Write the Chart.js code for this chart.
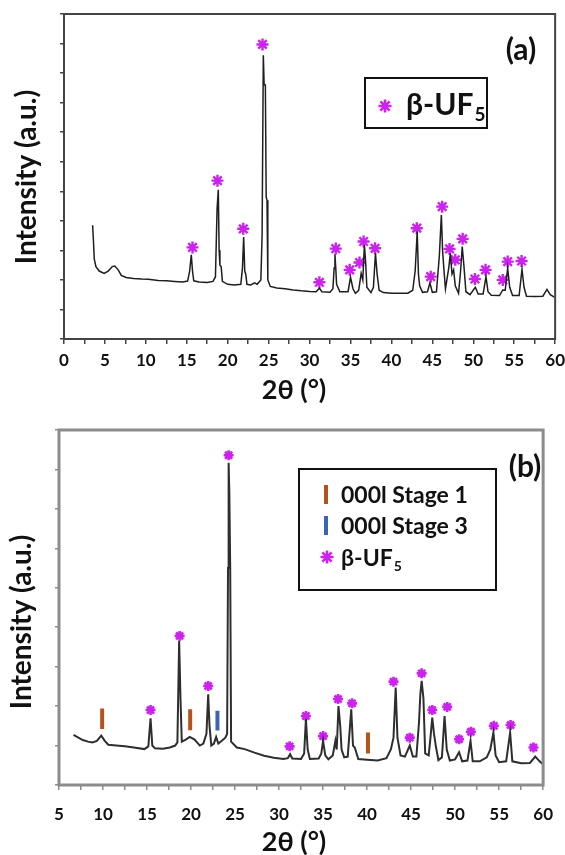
<!DOCTYPE html>
<html>
<head>
<meta charset="utf-8">
<script src="https://cdn.jsdelivr.net/npm/chart.js@4.4.1/dist/chart.umd.min.js"></script>
<style>
  html, body { margin: 0; padding: 0; background: #fff; overflow: hidden; }
  body { width: 565px; height: 855px; position: relative; }
  .panel { position: absolute; left: 0; }
  #wrapA { top: 0; width: 571px; height: 415px; }
  #wrapB { top: 415px; width: 567px; height: 440px; }
</style>
</head>
<body>
<div class="panel" id="wrapA"><canvas id="chartA"></canvas></div>
<div class="panel" id="wrapB"><canvas id="chartB"></canvas></div>
<script>
// ---- panel (a) : pattern + beta-UF5 reflections ----
const thetaA = [3.5, 3.6, 3.7, 3.9, 4.3, 4.9, 5.4, 5.9, 6.2, 6.6, 7.0, 7.6, 8.5, 9.5, 10.3, 11.5, 12.5, 13.5, 14.5,
  15.1, 15.35, 15.55, 15.7, 15.85, 16.5, 17.5, 18.2, 18.5, 18.7, 18.85, 18.95, 19.05, 19.2, 19.35, 20.0, 20.8,
  21.6, 21.8, 21.95, 22.08, 22.2, 22.35, 22.8, 23.3, 23.6, 24.05, 24.2, 24.35, 24.45, 24.6, 24.7, 24.8, 24.9,
  25.2, 26.0, 27.0, 28.0, 29.0, 30.0, 30.8, 31.2, 31.5, 32.5, 32.85, 33.0, 33.1, 33.2, 33.3, 33.7, 34.7, 35.0,
  35.3, 35.6, 36.0, 36.3, 36.5, 36.7, 36.85, 37.0, 37.5, 37.8, 38.05, 38.25, 38.5, 39.0, 40.0, 41.0, 42.0, 42.6,
  42.9, 43.15, 43.3, 43.45, 43.8, 44.4, 44.7, 45.0, 45.5, 45.85, 46.1, 46.25, 46.4, 46.6, 47.0, 47.2, 47.4, 47.6,
  47.8, 48.2, 48.45, 48.65, 48.85, 49.1, 49.6, 50.25, 50.6, 51.2, 51.55, 51.8, 52.2, 53.2, 53.6, 53.9, 54.2,
  54.45, 54.8, 55.6, 55.95, 56.2, 56.5, 57.5, 58.5, 59.0, 59.4, 59.9];
const intensityA = [3.85, 3.3, 2.7, 2.45, 2.3, 2.22, 2.3, 2.45, 2.47, 2.35, 2.15, 2.08, 2.05, 2.03, 2.02, 1.98, 1.97, 1.95, 1.93,
  1.96, 2.3, 2.85, 2.3, 1.97, 1.93, 1.91, 1.95, 2.1, 4.4, 5.05, 3.0, 2.5, 2.45, 1.95, 1.85, 1.83,
  1.85, 2.4, 3.45, 2.3, 2.2, 1.85, 1.83, 1.9, 1.85, 2.0, 3.5, 9.6, 8.6, 8.6, 4.8, 4.7, 2.0,
  1.78, 1.73, 1.7, 1.66, 1.63, 1.61, 1.6, 1.72, 1.6, 1.58, 1.7, 2.4, 2.87, 2.4, 1.85, 1.6, 1.6, 2.09,
  1.7, 1.55, 1.65, 2.22, 2.0, 3.19, 2.6, 1.75, 1.57, 1.75, 2.9, 2.2, 1.65, 1.57, 1.55, 1.55, 1.55, 1.65,
  2.3, 3.64, 2.2, 1.8, 1.58, 1.6, 1.89, 1.58, 1.6, 2.8, 4.2, 3.0, 2.4, 1.7, 2.4, 2.9, 2.2, 2.34,
  1.8, 1.55, 2.3, 3.13, 2.5, 1.6, 1.5, 1.75, 1.52, 1.52, 2.11, 1.6, 1.48, 1.47, 1.66, 1.65, 2.4,
  1.75, 1.47, 1.47, 2.36, 1.75, 1.45, 1.44, 1.45, 1.68, 1.5, 1.42];
const starThetaA = [15.7, 18.75, 21.9, 24.25, 31.2, 33.2, 34.9, 36.1, 36.6, 38.0, 43.1, 44.8, 46.2, 47.1, 47.8,
  48.7, 50.2, 51.5, 53.6, 54.2, 55.9];
const starIntensityA = [3.1, 5.36, 3.73, 9.97, 1.92, 3.06, 2.34, 2.59, 3.3, 3.07, 3.75, 2.11, 4.48, 3.05, 2.68,
  3.39, 2.03, 2.34, 2.0, 2.62, 2.64];

// ---- panel (b) : pattern + stage markers + beta-UF5 reflections ----
const thetaB = [6.65, 7.2, 7.7, 8.3, 8.8, 9.3, 9.8, 10.2, 10.6, 11.5, 12.5, 13.5, 14.7, 15.15, 15.4, 15.6, 15.9,
  16.8, 17.6, 18.2, 18.45, 18.65, 18.8, 18.95, 19.4, 19.85, 20.4, 21.0, 21.4, 21.75, 21.95, 22.1, 22.3, 22.6,
  22.85, 23.1, 23.5, 23.9, 24.1, 24.2, 24.27, 24.35, 24.45, 24.55, 25.2, 26.1, 27.2, 28.3, 29.4, 30.5, 31.0, 31.25,
  31.5, 32.5, 32.85, 33.05, 33.25, 33.5, 34.5, 34.8, 35.0, 35.25, 35.6, 36.1, 36.4, 36.55, 36.75, 36.95, 37.1,
  37.4, 37.8, 38.2, 38.4, 38.6, 39.0, 40.0, 41.2, 42.2, 42.7, 43.0, 43.25, 43.45, 43.8, 44.3, 44.85, 45.2, 45.6,
  45.9, 46.05, 46.2, 46.4, 46.6, 47.0, 47.2, 47.4, 47.6, 47.8, 48.1, 48.5, 48.8, 49.05, 49.4, 50.0, 50.45, 50.8,
  51.4, 51.75, 52.0, 52.8, 53.6, 54.0, 54.35, 54.6, 55.0, 55.8, 56.25, 56.5, 57.5, 58.5, 59.1, 59.6, 60.0];
const intensityB = [1.27, 1.2, 1.14, 1.1, 1.08, 1.12, 1.25, 1.12, 1.02, 1.0, 0.98, 0.95, 0.91, 0.98, 1.69, 1.0, 0.93,
  0.92, 0.95, 1.0, 1.08, 3.65, 2.2, 1.1, 1.15, 1.22, 1.15, 1.0, 1.05, 1.3, 2.3, 1.5, 1.0, 1.05,
  1.22, 1.05, 1.12, 1.2, 1.3, 5.5, 8.17, 7.4, 5.5, 1.1, 0.95, 0.91, 0.82, 0.74, 0.69, 0.66, 0.68, 0.78,
  0.67, 0.66, 0.8, 1.67, 0.9, 0.66, 0.67, 0.8, 1.12, 0.75, 0.65, 0.75, 1.12, 0.9, 2.0, 1.5, 0.9,
  0.7, 0.72, 1.92, 1.0, 0.95, 0.66, 0.64, 0.62, 0.68, 0.9, 1.2, 2.47, 1.2, 0.75, 0.72, 1.0, 0.72, 0.72,
  1.6, 2.3, 2.64, 2.2, 0.8, 0.75, 1.2, 1.71, 1.3, 1.0, 0.63, 0.7, 1.75, 0.9, 0.62, 0.65, 0.83, 0.6,
  0.62, 1.12, 0.6, 0.6, 0.7, 0.9, 1.33, 0.75, 0.58, 0.6, 1.33, 0.6, 0.55, 0.56, 0.72, 0.6, 0.52];
const starThetaB = [15.4, 18.7, 21.95, 24.27, 31.2, 33.05, 35.0, 36.7, 38.3, 43.0, 44.85, 46.2, 47.4, 49.1,
  50.45, 51.8, 54.4, 56.3, 58.9];
const starIntensityB = [1.9, 3.78, 2.51, 8.36, 0.98, 1.75, 1.24, 2.18, 2.07, 2.62, 1.2, 2.83, 1.9, 1.98,
  1.16, 1.35, 1.5, 1.52, 0.95];
const stage1Theta = [9.9, 19.9, 40.1];
const stage1Low = [1.42, 1.39, 0.8];
const stage1High = [1.94, 1.92, 1.33];
const stage3Theta = [23.0];
const stage3Low = [1.38];
const stage3High = [1.88];

const MAGENTA = '#cc22ee';
const BROWN = '#b4541c';
const BLUE = '#3c64b4';
const FONT = 'Lato, "Open Sans", sans-serif';

Chart.defaults.font.family = FONT;
Chart.defaults.color = '#111';

function toPoints(xs, ys) {
  return xs.map((x, i) => ({x: x, y: ys[i]}));
}

function drawAsterisk(ctx, x, y, r, width) {
  ctx.save();
  ctx.strokeStyle = MAGENTA;
  ctx.lineWidth = width;
  ctx.beginPath();
  for (let k = 0; k < 4; k++) {
    const a = k * Math.PI / 4;
    ctx.moveTo(x - r * Math.cos(a), y - r * Math.sin(a));
    ctx.lineTo(x + r * Math.cos(a), y + r * Math.sin(a));
  }
  ctx.stroke();
  ctx.restore();
}

function drawText(ctx, text, x, y, font, opts) {
  ctx.save();
  ctx.font = font;
  ctx.fillStyle = '#111';
  ctx.textAlign = (opts && opts.align) || 'left';
  ctx.textBaseline = (opts && opts.baseline) || 'alphabetic';
  ctx.translate(x, y);
  if (opts && opts.rotate) ctx.rotate(opts.rotate);
  ctx.fillText(text, 0, 0);
  ctx.restore();
}

// beta-UF5 with a subscript 5
function drawUF5(ctx, x, baseline, size) {
  ctx.save();
  ctx.font = `bold ${size}px ${FONT}`;
  ctx.fillStyle = '#111';
  ctx.textBaseline = 'alphabetic';
  ctx.fillText('β-UF', x, baseline);
  const w = ctx.measureText('β-UF').width;
  ctx.font = `bold ${Math.round(size * 0.62)}px ${FONT}`;
  ctx.fillText('5', x + w + 1, baseline + size * 0.2);
  ctx.restore();
}

function frame(color, width) {
  return {
    id: 'frame',
    afterDatasetsDraw(chart) {
      const {ctx, chartArea: a} = chart;
      ctx.save();
      ctx.strokeStyle = color;
      ctx.lineWidth = width;
      ctx.strokeRect(a.left, a.top, a.right - a.left, a.bottom - a.top);
      ctx.restore();
    }
  };
}

function axes(xMin, xMax, yMax, color, tickFont, tickPad, xHeight, yWidth) {
  return {
    x: {
      type: 'linear', min: xMin, max: xMax,
      afterFit: (s) => { s.height = xHeight; },
      border: {display: true, color: color, width: 2},
      grid: {drawOnChartArea: false, drawTicks: true, tickLength: 5, color: color, lineWidth: 1.5},
      ticks: {
        stepSize: 2.5, autoSkip: false, maxRotation: 0, padding: tickPad,
        font: tickFont, color: '#111',
        callback: (v) => (v % 5 === 0 ? String(v) : '')
      }
    },
    y: {
      type: 'linear', min: 0, max: yMax,
      afterFit: (s) => { s.width = yWidth; },
      border: {display: true, color: color, width: 2},
      grid: {drawOnChartArea: false, drawTicks: true, tickLength: 4, color: color, lineWidth: 1.5},
      ticks: {stepSize: 1, callback: () => ''}
    }
  };
}

const common = {
  responsive: true,
  maintainAspectRatio: false,
  animation: false,
  events: [],
  plugins: {legend: {display: false}, tooltip: {enabled: false}}
};

// ---------- chart (a) ----------
new Chart(document.getElementById('chartA'), {
  type: 'line',
  data: {
    datasets: [
      {
        data: toPoints(thetaA, intensityA),
        borderColor: '#1e1e1e', borderWidth: 1.5, pointRadius: 0, tension: 0
      },
      {
        data: toPoints(starThetaA, starIntensityA),
        showLine: false, pointStyle: 'star', pointRadius: 6,
        pointBorderColor: MAGENTA, pointBorderWidth: 2.4
      }
    ]
  },
  options: Object.assign({}, common, {
    layout: {padding: {top: 14, right: 10, left: 0, bottom: 0}},
    scales: axes(0, 60, 11, '#444', {size: 17, weight: 'bold'}, 6, 76, 64)
  }),
  plugins: [frame('#444', 2), {
    id: 'decorA',
    afterDraw(chart) {
      const ctx = chart.ctx;
      drawText(ctx, 'Intensity (a.u.)', 27, 177, `bold 28px ${FONT}`,
        {align: 'center', baseline: 'middle', rotate: -Math.PI / 2});
      drawText(ctx, '2θ (°)', 294, 390, `bold 27px ${FONT}`, {align: 'center', baseline: 'middle'});
      drawText(ctx, '(a)', 521, 50, `bold 30px ${FONT}`, {align: 'center', baseline: 'middle'});
      ctx.save();
      ctx.strokeStyle = '#111';
      ctx.lineWidth = 2;
      ctx.strokeRect(365, 78, 122, 50);
      ctx.restore();
      drawAsterisk(ctx, 385, 106, 6.5, 2.6);
      drawUF5(ctx, 406, 115, 30);
    }
  }]
});

// ---------- chart (b) ----------
const markerSets = [];
stage1Theta.forEach((t, i) => markerSets.push({
  data: [{x: t, y: stage1Low[i]}, {x: t, y: stage1High[i]}],
  borderColor: BROWN, borderWidth: 4, borderCapStyle: 'butt', pointRadius: 0
}));
stage3Theta.forEach((t, i) => markerSets.push({
  data: [{x: t, y: stage3Low[i]}, {x: t, y: stage3High[i]}],
  borderColor: BLUE, borderWidth: 4, borderCapStyle: 'butt', pointRadius: 0
}));

new Chart(document.getElementById('chartB'), {
  type: 'line',
  data: {
    datasets: [
      {
        data: toPoints(thetaB, intensityB),
        borderColor: '#2e2e2e', borderWidth: 2, pointRadius: 0, tension: 0
      },
      ...markerSets,
      {
        data: toPoints(starThetaB, starIntensityB),
        showLine: false, pointStyle: 'star', pointRadius: 5,
        pointBorderColor: MAGENTA, pointBorderWidth: 2.6
      }
    ]
  },
  options: Object.assign({}, common, {
    layout: {padding: {top: 15, right: 10, left: 0, bottom: 0}},
    scales: axes(5, 60, 9, '#8c8c8c', {size: 17, weight: 'bold'}, 14, 70, 59)
  }),
  plugins: [frame('#8c8c8c', 3), {
    id: 'decorB',
    afterDraw(chart) {
      const ctx = chart.ctx;
      drawText(ctx, 'Intensity (a.u.)', 22, 207, `bold 28px ${FONT}`,
        {align: 'center', baseline: 'middle', rotate: -Math.PI / 2});
      drawText(ctx, '2θ (°)', 294, 427, `bold 27px ${FONT}`, {align: 'center', baseline: 'middle'});
      drawText(ctx, '(b)', 525, 52, `bold 30px ${FONT}`, {align: 'center', baseline: 'middle'});
      ctx.save();
      ctx.strokeStyle = '#111';
      ctx.lineWidth = 2;
      ctx.strokeRect(299, 54, 197, 121);
      ctx.fillStyle = BROWN;
      ctx.fillRect(324, 70, 4, 19);
      ctx.fillStyle = BLUE;
      ctx.fillRect(324, 101, 4, 19);
      ctx.restore();
      drawText(ctx, '000l Stage 1', 341, 88, `bold 23px ${FONT}`);
      drawText(ctx, '000l Stage 3', 341, 119, `bold 23px ${FONT}`);
      drawAsterisk(ctx, 327, 142, 6.5, 2.6);
      drawUF5(ctx, 341, 151, 23);
    }
  }]
});
</script>
</body>
</html>
